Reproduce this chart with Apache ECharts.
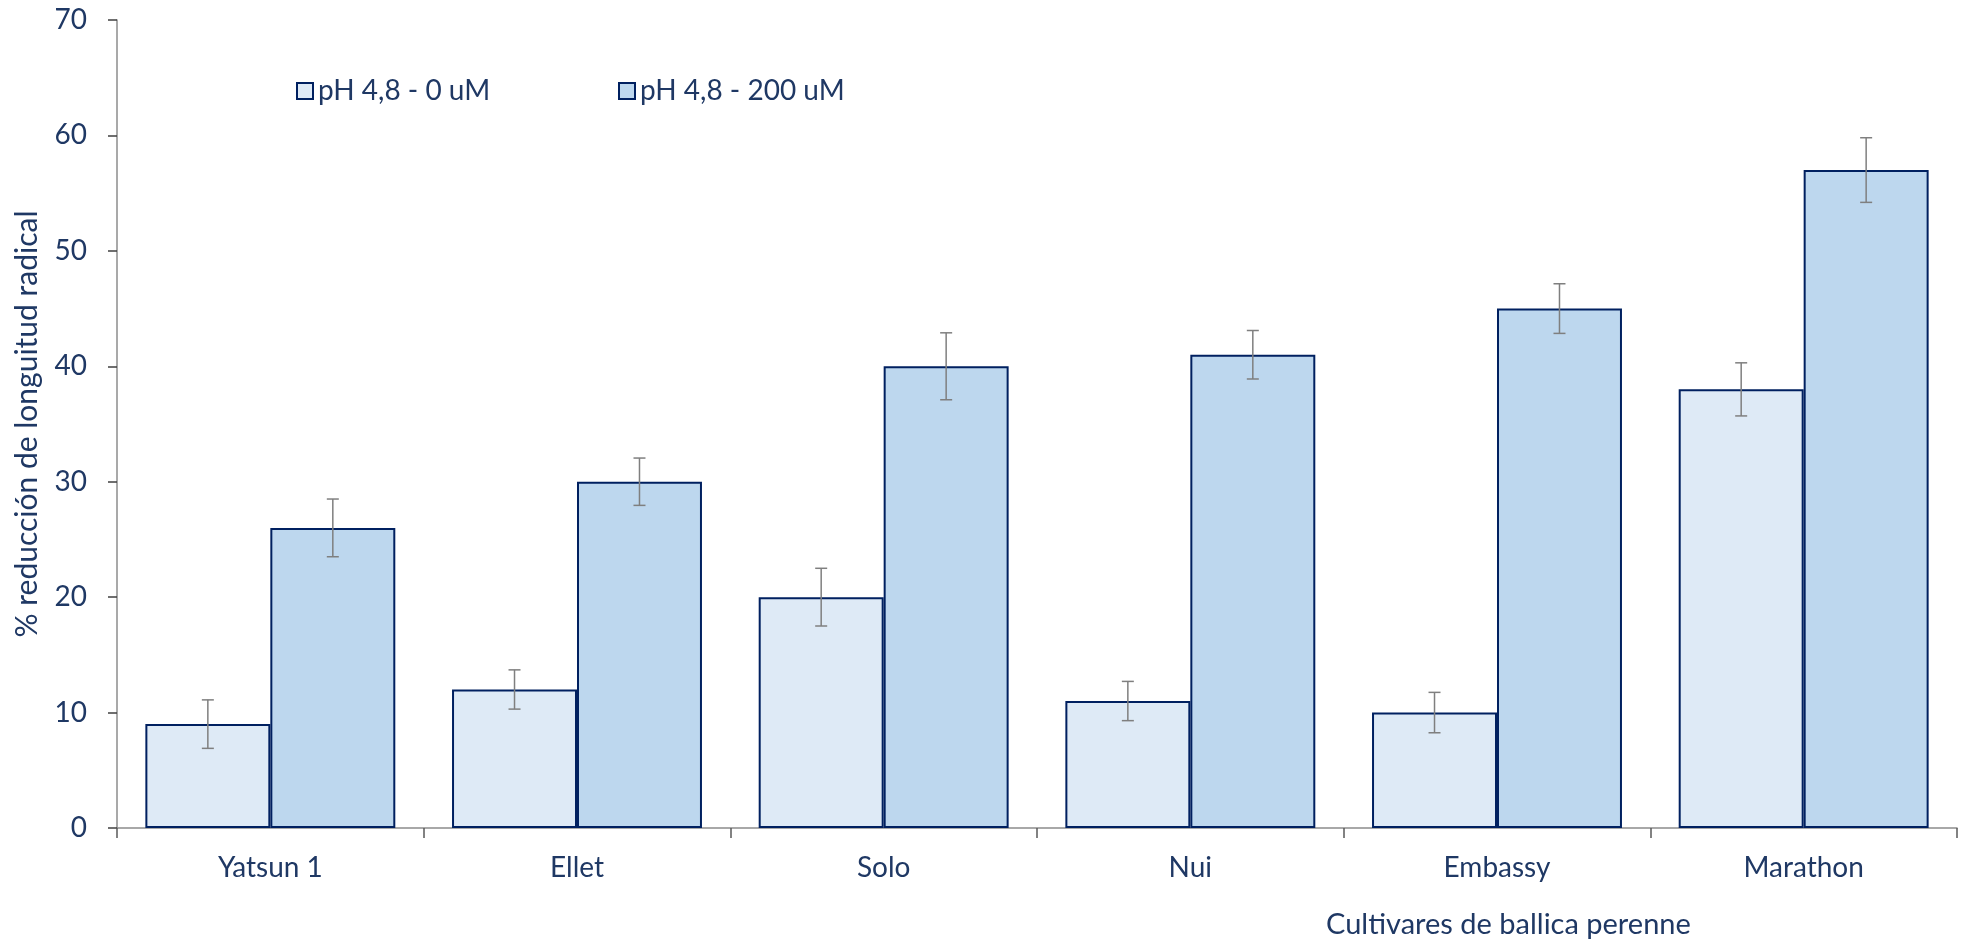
<!DOCTYPE html>
<html>
<head>
<meta charset="utf-8">
<script src="https://cdn.jsdelivr.net/npm/echarts@6/dist/echarts.min.js"></script>
<style>
html,body{margin:0;padding:0;background:#fff;}
#main{width:1964px;height:940px;}
</style>
</head>
<body>
<div id="main"></div>
<script>
var categories = ['Yatsun 1', 'Ellet', 'Solo', 'Nui', 'Embassy', 'Marathon'];
var seriesNames = ['pH 4,8 - 0 uM', 'pH 4,8 - 200 uM'];
var values0 = [9, 12, 20, 11, 10, 38];
var values1 = [26, 30, 40, 41, 45, 57];
var errors0 = [2.1, 1.7, 2.5, 1.7, 1.75, 2.3];
var errors1 = [2.5, 2.05, 2.9, 2.1, 2.15, 2.8];
var yTicks = [0, 10, 20, 30, 40, 50, 60, 70];
var yTitle = '% reducción de longuitud radical';
var xTitle = 'Cultivares de ballica perenne';

var TEXT = '#1f3864';
var FONT = 'Lato';
var CAT_GAP = 0.185;

function errData(vals, errs) {
  return vals.map(function (v, i) { return [i, v - errs[i], v + errs[i]]; });
}

function errRender(side) {
  return function (params, api) {
    var idx = api.value(0);
    var lowP = api.coord([idx, api.value(1)]);
    var highP = api.coord([idx, api.value(2)]);
    var band = api.size([1, 0])[0];
    var bw = band * (1 - CAT_GAP) / 2;
    var x = lowP[0] + side * bw / 2;
    var cap = 6;
    var style = { stroke: '#7f7f7f', lineWidth: 1.5, fill: null };
    return {
      type: 'group',
      children: [
        { type: 'line', shape: { x1: x, y1: highP[1], x2: x, y2: lowP[1] }, style: style },
        { type: 'line', shape: { x1: x - cap, y1: highP[1], x2: x + cap, y2: highP[1] }, style: style },
        { type: 'line', shape: { x1: x - cap, y1: lowP[1], x2: x + cap, y2: lowP[1] }, style: style }
      ]
    };
  };
}

var chart = echarts.init(document.getElementById('main'), null, { renderer: 'canvas' });
chart.setOption({
  animation: false,
  backgroundColor: '#ffffff',
  textStyle: { fontFamily: FONT, color: TEXT },
  grid: { left: 117, right: 7, top: 20, bottom: 112, containLabel: false },
  title: {
    text: xTitle,
    left: 1326,
    bottom: 1,
    padding: 0,
    textStyle: { fontFamily: FONT, fontSize: 29, fontWeight: 'normal', color: TEXT }
  },
  legend: [
    {
      data: [seriesNames[0]], left: 291, top: 72, icon: 'rect', itemWidth: 16, itemHeight: 16, itemGap: 8,
      textStyle: { fontFamily: FONT, fontSize: 28, color: TEXT }
    },
    {
      data: [seriesNames[1]], left: 613, top: 72, icon: 'rect', itemWidth: 16, itemHeight: 16, itemGap: 8,
      textStyle: { fontFamily: FONT, fontSize: 28, color: TEXT }
    }
  ],
  xAxis: {
    type: 'category',
    data: categories,
    axisLine: { lineStyle: { color: '#8c8c8c', width: 1.5 } },
    axisTick: { show: true, alignWithLabel: false, length: 10, lineStyle: { color: '#595959', width: 1.5 } },
    axisLabel: { margin: 26, fontFamily: FONT, fontSize: 28, color: TEXT }
  },
  yAxis: {
    type: 'value',
    min: 0, max: 70, interval: 10,
    name: yTitle,
    nameLocation: 'middle',
    nameGap: 75,
    nameRotate: 90,
    nameTextStyle: { fontFamily: FONT, fontSize: 30, color: TEXT },
    axisLine: { show: true, lineStyle: { color: '#8c8c8c', width: 1.5 } },
    axisTick: { show: true, length: 9, lineStyle: { color: '#404040', width: 1.5 } },
    splitLine: { show: false },
    axisLabel: {
      margin: 30, fontFamily: FONT, fontSize: 28, color: TEXT,
      formatter: function (v) { return yTicks.indexOf(v) >= 0 ? String(v) : ''; }
    }
  },
  series: [
    {
      name: seriesNames[0], type: 'bar', data: values0,
      barGap: '0%', barCategoryGap: (CAT_GAP * 100) + '%',
      itemStyle: { color: '#deeaf6', borderColor: '#002060', borderWidth: 2 }
    },
    {
      name: seriesNames[1], type: 'bar', data: values1,
      barGap: '0%', barCategoryGap: (CAT_GAP * 100) + '%',
      itemStyle: { color: '#bdd7ee', borderColor: '#002060', borderWidth: 2 }
    },
    {
      type: 'custom', name: 'err0', renderItem: errRender(-1), data: errData(values0, errors0),
      encode: { x: 0, y: [1, 2] }, z: 10, silent: true
    },
    {
      type: 'custom', name: 'err1', renderItem: errRender(1), data: errData(values1, errors1),
      encode: { x: 0, y: [1, 2] }, z: 10, silent: true
    }
  ]
});
</script>
</body>
</html>
